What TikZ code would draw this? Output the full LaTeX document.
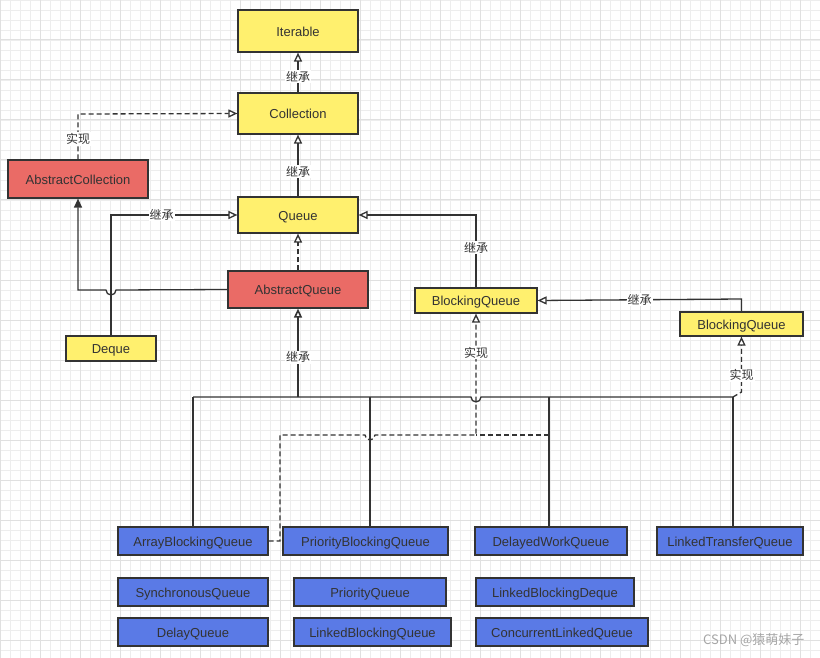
\documentclass[tikz,border=0pt]{standalone}
\usepackage{fontspec}
\setmainfont{Liberation Sans}
\newfontfamily\cjk{Noto Sans CJK SC}
\usetikzlibrary{arrows.meta}
\definecolor{ylw}{HTML}{FFF06E}
\definecolor{rd}{HTML}{EA6B66}
\definecolor{bl}{HTML}{5A7AE6}
\definecolor{ln}{HTML}{333333}
\begin{document}
\begin{tikzpicture}[x=1pt,y=-1pt,
 box/.style={draw=ln,line width=1.2pt,minimum height=#1,inner sep=0pt,text height=11pt,text depth=0.5pt,font=\fontsize{13}{15}\selectfont,text=ln},
 Y/.style={box=#1,fill=ylw}, R/.style={box=#1,fill=rd}, B/.style={box=#1,fill=bl},
 con/.style={draw=ln,line width=1.3pt},
 inh/.style={con,-{Triangle[open,fill=white,length=9pt,width=8pt]}},
 imp/.style={inh,dash pattern=on 5pt off 3pt},
 lab/.style={fill=white,inner sep=1pt,font=\cjk\fontsize{12}{14}\selectfont,text=ln}]
\useasboundingbox (0,0) rectangle (820,658);
\fill[white] (0,0) rectangle (820,658);
\foreach \i in {0,10,...,820} \draw[black!7,line width=0.8pt] (\i,0) -- (\i,658);
\foreach \i in {0,10,...,650} \draw[black!7,line width=0.8pt] (0,\i) -- (820,\i);
\foreach \i in {0,40,...,820} \draw[black!12,line width=1pt] (\i,0) -- (\i,658);
\foreach \i in {0,40,...,650} \draw[black!12,line width=1pt] (0,\i) -- (820,\i);
% nodes
\node[Y=42pt,minimum width=120pt] (it) at (298,31) {Iterable};
\node[Y=41pt,minimum width=120pt] (col) at (298,113.5) {Collection};
\node[Y=36pt,minimum width=120pt] (q) at (298,215) {Queue};
\node[R=38pt,minimum width=140pt] (ac) at (78,179) {AbstractCollection};
\node[R=37pt,minimum width=140pt] (aq) at (298,289.5) {AbstractQueue};
\node[Y=25pt,minimum width=90pt] (dq) at (111,348.5) {Deque};
\node[Y=25pt,minimum width=122pt] (bq) at (476,300.5) {BlockingQueue};
\node[Y=24pt,minimum width=123pt] (bq2) at (741.5,324) {BlockingQueue};
\node[B=28pt,minimum width=150pt] (abq) at (193,541) {ArrayBlockingQueue};
\node[B=28pt,minimum width=165pt] (pbq) at (365.5,541) {PriorityBlockingQueue};
\node[B=28pt,minimum width=152pt] (dwq) at (551,541) {DelayedWorkQueue};
\node[B=28pt,minimum width=146pt] (ltq) at (730,541) {LinkedTransferQueue};
\node[B=28pt,minimum width=150pt] (sq) at (193,592) {SynchronousQueue};
\node[B=28pt,minimum width=152pt] (pq) at (370,592) {PriorityQueue};
\node[B=28pt,minimum width=158pt] (lbd) at (555,592) {LinkedBlockingDeque};
\node[B=28pt,minimum width=150pt] (dlq) at (193,632) {DelayQueue};
\node[B=28pt,minimum width=157pt] (lbq) at (372.5,632) {LinkedBlockingQueue};
\node[B=28pt,minimum width=172pt] (clq) at (562,632) {ConcurrentLinkedQueue};
% coordinates
\coordinate (busL) at (193,397);
\coordinate (busA) at (298,397);
\coordinate (busP) at (370,397);
\coordinate (busD) at (549,397);
\coordinate (busR) at (733,397);
% edges
\draw[inh] (col) -- node[lab,pos=0.4]{继承} (it);
\draw[inh] (q) -- node[lab,pos=0.4]{继承} (col);
\draw[imp] (aq) -- (q);
\draw[imp] (ac.north) -- node[lab,pos=0.45]{实现} (78,114) -- (col.west);
\draw[inh] (dq.north) -- (111,215) -- node[lab,pos=0.4]{继承} (q.west);
\draw[con,-{Triangle[length=9pt,width=8pt]}] (aq.west) -- (116,290) arc[start angle=0,end angle=180,radius=5] -- (78,290) -- (ac.south);
\draw[inh] (bq.north) -- node[lab,pos=0.55]{继承} (476,215) -- (q.east);
\draw[inh] (bq2.north) -- (741.5,299) -- node[lab]{继承} (bq.east);
% bus
\draw[con] (busL) -- (471,397) arc[start angle=180,end angle=0,radius=5] -- (busR);
\draw[inh,line width=1.6pt] (busA) -- node[lab,pos=0.45]{继承} (aq.south);
\draw[con] (abq.north) -- (busL);
\draw[con] (pbq.north-|busP) -- (busP);
\draw[con] (dwq.north-|busD) -- (busD);
\draw[con] (ltq.north-|busR) -- (busR);
% dashed implementations
\draw[imp] (abq.east) -- (280,541) -- (280,435) -- (365,435) arc[start angle=180,end angle=0,radius=5] -- (476,435) -- node[lab,pos=0.68]{实现} (bq.south);
\draw[con,dash pattern=on 5pt off 3pt] (549,435) -- (476,435);
\draw[imp] (busR) -- (741.5,392) -- node[lab,pos=0.3]{实现} (bq2.south);
\node[text=gray!70,font=\cjk\fontsize{13}{15}\selectfont,anchor=east] (wm) at (808,640) {CSDN @猿萌妹子};
\end{tikzpicture}
\end{document}
